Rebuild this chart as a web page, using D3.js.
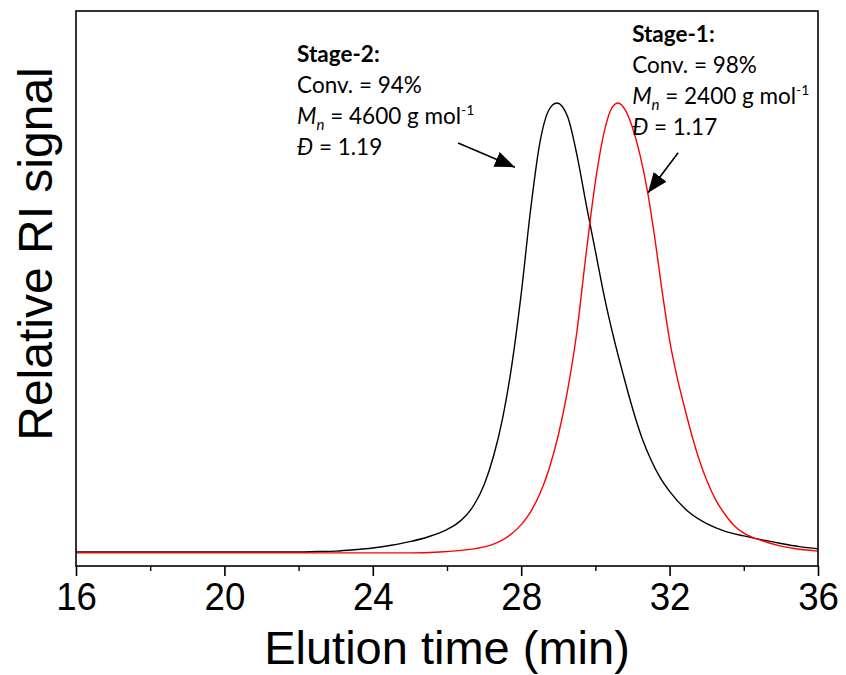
<!DOCTYPE html>
<html>
<head>
<meta charset="utf-8">
<script src="https://cdn.jsdelivr.net/npm/d3@7"></script>
<style>
  body { margin: 0; background: #fff; }
  svg { display: block; }
</style>
</head>
<body>
<div id="chart"></div>
<script>
// data (time in min, relative signal 0..1)
const stage2Time = [16.0, 20.0, 22.0, 22.5, 23.0, 23.5, 24.0, 24.5, 25.0, 25.5, 26.0, 26.25, 26.5, 26.75, 27.0, 27.25, 27.5, 27.75, 28.0, 28.25, 28.5, 28.75, 28.96,
    29.25, 29.5, 29.75, 30.0, 30.25, 30.5, 30.75, 31.0, 31.25, 31.5, 31.75, 32.0, 32.5, 33.0, 33.5, 34.0, 34.5, 35.0, 35.5, 36.0];
const stage2Signal = [0.0, 0.0, 0.0, 0.001, 0.002, 0.005, 0.009, 0.015, 0.023, 0.034, 0.050, 0.062, 0.080, 0.108, 0.150, 0.212, 0.298, 0.418, 0.575, 0.760, 0.910, 0.985, 1.0,
    0.970, 0.885, 0.775, 0.670, 0.565, 0.475, 0.395, 0.320, 0.255, 0.205, 0.165, 0.135, 0.090, 0.063, 0.046, 0.036, 0.027, 0.019, 0.012, 0.007];

const stage1Time = [16.0, 22.0, 25.0, 25.8, 26.3, 26.8, 27.2, 27.5, 27.75, 28.0, 28.25, 28.5, 28.75, 29.0, 29.25, 29.5, 29.75, 30.0, 30.25, 30.45, 30.61,
    30.8, 31.0, 31.2, 31.4, 31.6, 31.8, 32.0, 32.2, 32.4, 32.6, 32.8, 33.0, 33.25, 33.5, 33.75, 34.0, 34.5, 35.0, 35.5, 36.0];
const stage1Signal = [-0.002, -0.002, -0.002, 0.0, 0.003, 0.008, 0.016, 0.027, 0.041, 0.061, 0.089, 0.129, 0.185, 0.260, 0.360, 0.490, 0.665, 0.825, 0.940, 0.990, 1.0,
    0.985, 0.945, 0.885, 0.805, 0.700, 0.580, 0.472, 0.390, 0.323, 0.260, 0.205, 0.160, 0.115, 0.083, 0.058, 0.042, 0.025, 0.013, 0.006, 0.002];

const majorTicks = [16, 20, 24, 28, 32, 36];
const minorTicks = [18, 22, 26, 30, 34];

// annotation anchors (time, signal)
const stage2Label = { t: 21.96, v: 1.091, lines: ["Stage-2:", "Conv. = 94%", "4600", "1.19"] };
const stage1Label = { t: 30.99, v: 1.136, lines: ["Stage-1:", "Conv. = 98%", "2400", "1.17"] };
const stage2Arrow = [[26.30, 0.911], [27.83, 0.857]];
const stage1Arrow = [[32.23, 0.889], [31.42, 0.800]];

const width = 846, height = 675;
const margin = { top: 11, right: 28, bottom: 109, left: 76 };

const svg = d3.select("#chart").append("svg")
    .attr("width", width)
    .attr("height", height);

const x = d3.scaleLinear().domain([16, 36]).range([margin.left, width - margin.right]);
const y = d3.scaleLinear().domain([-0.0312, 1.2049]).range([height - margin.bottom, margin.top]);

// curves
const line = d3.line()
    .x(d => x(d[0]))
    .y(d => y(d[1]))
    .curve(d3.curveMonotoneX);

svg.append("path")
    .datum(d3.zip(stage2Time, stage2Signal))
    .attr("fill", "none")
    .attr("stroke", "#000")
    .attr("stroke-width", 1.4)
    .attr("d", line);

svg.append("path")
    .datum(d3.zip(stage1Time, stage1Signal))
    .attr("fill", "none")
    .attr("stroke", "#ff0000")
    .attr("stroke-width", 1.4)
    .attr("d", line);

// frame
svg.append("rect")
    .attr("x", x(16))
    .attr("y", margin.top)
    .attr("width", x(36) - x(16))
    .attr("height", height - margin.bottom - margin.top)
    .attr("fill", "none")
    .attr("stroke", "#000")
    .attr("stroke-width", 1.6);

// x axis
const xAxis = svg.append("g")
    .attr("transform", `translate(0,${height - margin.bottom})`)
    .call(d3.axisBottom(x).tickValues(majorTicks).tickSize(10).tickSizeOuter(0).tickPadding(6));
xAxis.select(".domain").remove();
xAxis.selectAll("line").attr("stroke-width", 1.6);
xAxis.selectAll("text")
    .attr("font-family", "Liberation Sans, Arial, sans-serif")
    .attr("font-size", "39px")
    .attr("fill", "#000")
    .attr("transform", "scale(0.94,1)");

const xMinor = svg.append("g")
    .attr("transform", `translate(0,${height - margin.bottom})`)
    .call(d3.axisBottom(x).tickValues(minorTicks).tickSize(5).tickSizeOuter(0).tickFormat(""));
xMinor.select(".domain").remove();
xMinor.selectAll("line").attr("stroke-width", 1.4);

// axis titles
svg.append("text")
    .attr("x", (x(16) + x(36)) / 2)
    .attr("y", 664)
    .attr("text-anchor", "middle")
    .attr("font-family", "Liberation Sans, Arial, sans-serif")
    .attr("font-size", "47px")
    .text("Elution time (min)");

svg.append("text")
    .attr("transform", "translate(52,254) rotate(-90)")
    .attr("text-anchor", "middle")
    .attr("font-family", "Liberation Sans, Arial, sans-serif")
    .attr("font-size", "48px")
    .text("Relative RI signal");

// annotations
function annotate(lab) {
    const g = svg.append("g")
        .attr("font-family", "Lato, 'Open Sans', sans-serif")
        .attr("font-size", "22.5px")
        .attr("fill", "#000");
    const x0 = x(lab.t), y0 = y(lab.v), lh = 31;
    g.append("text").attr("x", x0).attr("y", y0).attr("font-weight", "bold").text(lab.lines[0]);
    g.append("text").attr("x", x0).attr("y", y0 + lh).text(lab.lines[1]);
    const mn = g.append("text").attr("x", x0).attr("y", y0 + lh * 2);
    mn.append("tspan").attr("font-style", "italic").text("M");
    mn.append("tspan").attr("font-style", "italic").attr("font-size", "15px").attr("dy", 6).text("n");
    mn.append("tspan").attr("dy", -6).text(" = " + lab.lines[2] + " g mol");
    mn.append("tspan").attr("font-size", "14px").attr("dy", -9).text("-1");
    const dd = g.append("text").attr("x", x0).attr("y", y0 + lh * 3);
    dd.append("tspan").attr("font-style", "italic").text("Đ");
    dd.append("tspan").text(" = " + lab.lines[3]);
}
annotate(stage2Label);
annotate(stage1Label);

// arrows
svg.append("defs").append("marker")
    .attr("id", "head")
    .attr("markerUnits", "userSpaceOnUse")
    .attr("viewBox", "0 0 20 16")
    .attr("refX", 20)
    .attr("refY", 8)
    .attr("markerWidth", 20)
    .attr("markerHeight", 16)
    .attr("orient", "auto")
    .append("path")
    .attr("d", "M0,0 L20,8 L0,16 Z")
    .attr("fill", "#000");

[stage2Arrow, stage1Arrow].forEach(a => {
    svg.append("line")
        .attr("x1", x(a[0][0])).attr("y1", y(a[0][1]))
        .attr("x2", x(a[1][0])).attr("y2", y(a[1][1]))
        .attr("stroke", "#000")
        .attr("stroke-width", 1.6)
        .attr("marker-end", "url(#head)");
});
</script>
</body>
</html>
